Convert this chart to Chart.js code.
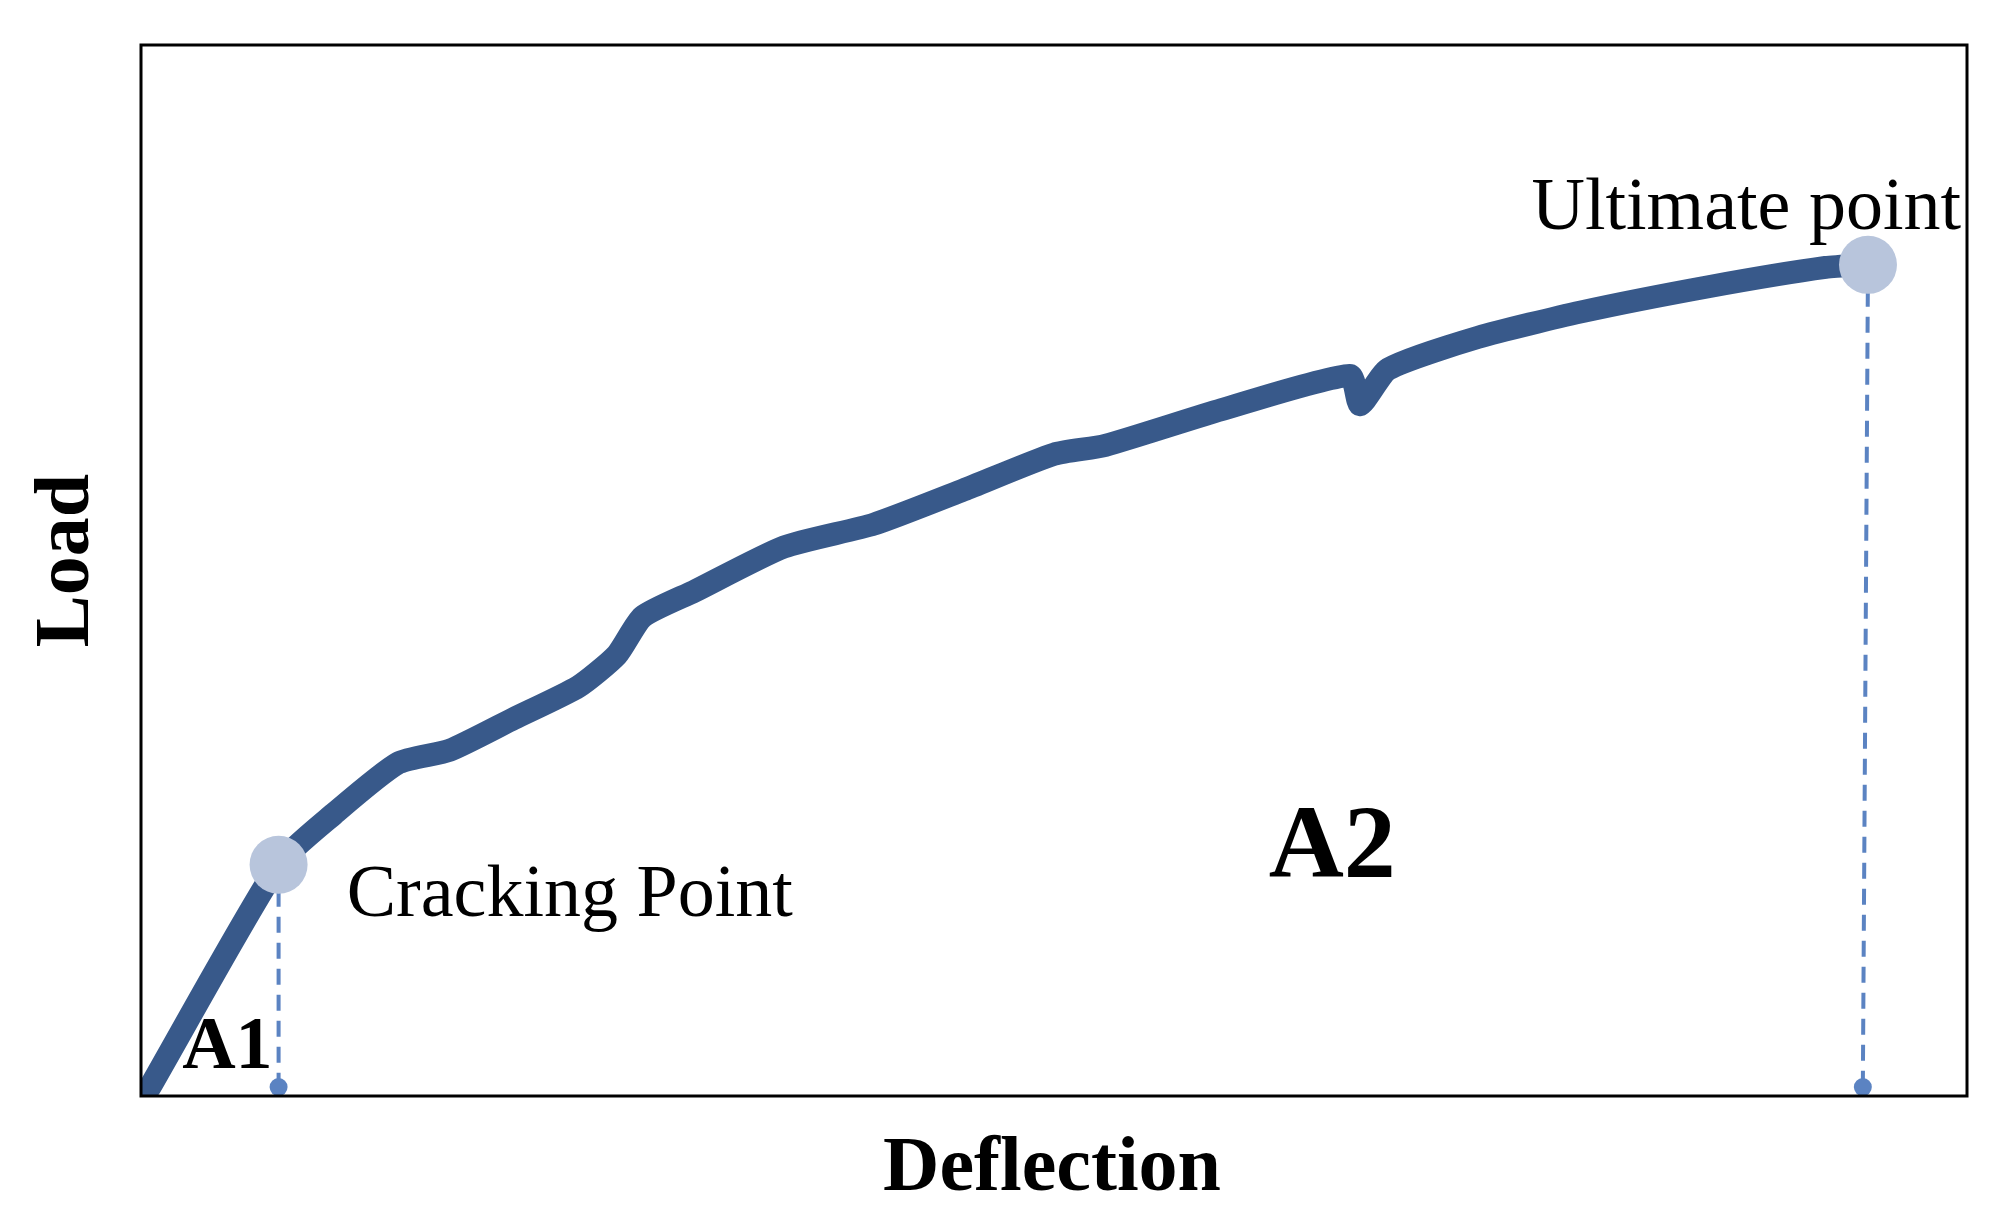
<!DOCTYPE html>
<html>
<head>
<meta charset="UTF-8">
<script src="https://cdn.jsdelivr.net/npm/chart.js"></script>
<style>
  html, body { margin: 0; padding: 0; background: #fff; }
  #wrap { width: 2006px; height: 1221px; }
</style>
</head>
<body>
<div id="wrap"><canvas id="c"></canvas></div>
<script>
// load-deflection curve (arbitrary units)
const deflection = [7, 107, 150, 200, 240, 290, 340, 370, 390, 430, 500, 570, 640, 710, 750, 840, 940, 948, 970, 1040, 1120, 1220, 1310, 1343];
const load = [7, 182, 222, 262, 272, 297, 322, 347, 377, 397, 432, 450, 477, 505, 512, 540, 567, 544, 572, 597, 617, 637, 652, 654];
const keyPoints = [{ x: 107, y: 182 }, { x: 1343, y: 654 }];
const footPoints = [{ x: 107, y: 7 }, { x: 1339, y: 7 }];
const xRange = [0, 1420];
const yRange = [0, 827];

const serif = '"Liberation Serif", "DejaVu Serif", serif';

const decor = {
  id: 'decor',
  beforeDatasetsDraw(chart) {
    const { ctx, chartArea: a, scales: { x, y } } = chart;
    ctx.save();
    // dashed drop lines
    ctx.strokeStyle = '#5b83c2';
    ctx.lineWidth = 4;
    ctx.setLineDash([16, 10]);
    keyPoints.forEach((p, i) => {
      ctx.beginPath();
      ctx.moveTo(x.getPixelForValue(p.x), y.getPixelForValue(p.y));
      ctx.lineTo(x.getPixelForValue(footPoints[i].x), y.getPixelForValue(footPoints[i].y));
      ctx.stroke();
    });
    ctx.restore();
  },
  afterDraw(chart) {
    const { ctx, chartArea: a, scales: { x, y } } = chart;
    ctx.save();
    ctx.strokeStyle = '#000';
    ctx.lineWidth = 3;
    ctx.strokeRect(a.left, a.top, a.right - a.left, a.bottom - a.top);
    ctx.fillStyle = '#000';
    ctx.textBaseline = 'alphabetic';
    ctx.font = '74px ' + serif;
    ctx.textAlign = 'left';
    ctx.fillText('Cracking Point', x.getPixelForValue(160), y.getPixelForValue(142));
    ctx.textAlign = 'right';
    ctx.fillText('Ultimate point', a.right - 6, y.getPixelForValue(682));
    ctx.font = 'bold 104px ' + serif;
    ctx.textAlign = 'left';
    ctx.fillText('A2', x.getPixelForValue(877), y.getPixelForValue(172));
    ctx.font = 'bold 74px ' + serif;
    ctx.fillText('A1', x.getPixelForValue(32), y.getPixelForValue(22));
    ctx.font = 'bold 78px ' + serif;
    ctx.textAlign = 'center';
    ctx.fillText('Deflection', (a.left + a.right) / 2 - 2, 1190);
    ctx.translate(88, (a.top + a.bottom) / 2 - 10);
    ctx.rotate(-Math.PI / 2);
    ctx.fillText('Load', 0, 0);
    ctx.restore();
  }
};

new Chart(document.getElementById('c'), {
  type: 'scatter',
  data: {
    datasets: [
      {
        data: footPoints,
        pointRadius: 9,
        pointBackgroundColor: '#5b83c2',
        pointBorderWidth: 0,
        showLine: false,
        order: 1
      },
      {
        data: keyPoints,
        pointRadius: 29,
        pointBackgroundColor: '#b8c5dc',
        pointBorderWidth: 0,
        showLine: false,
        order: 0
      },
      {
        data: deflection.map((d, i) => ({ x: d, y: load[i] })),
        showLine: true,
        borderColor: '#38598a',
        borderWidth: 23,
        borderCapStyle: 'round',
        borderJoinStyle: 'round',
        pointRadius: 0,
        tension: 0.2,
        order: 2
      }
    ]
  },
  options: {
    responsive: true,
    maintainAspectRatio: false,
    animation: false,
    layout: { padding: { left: 141, right: 39, top: 45, bottom: 125 } },
    plugins: { legend: { display: false }, tooltip: { enabled: false } },
    scales: {
      x: { type: 'linear', display: false, min: xRange[0], max: xRange[1] },
      y: { type: 'linear', display: false, min: yRange[0], max: yRange[1] }
    }
  },
  plugins: [decor]
});
</script>
</body>
</html>
